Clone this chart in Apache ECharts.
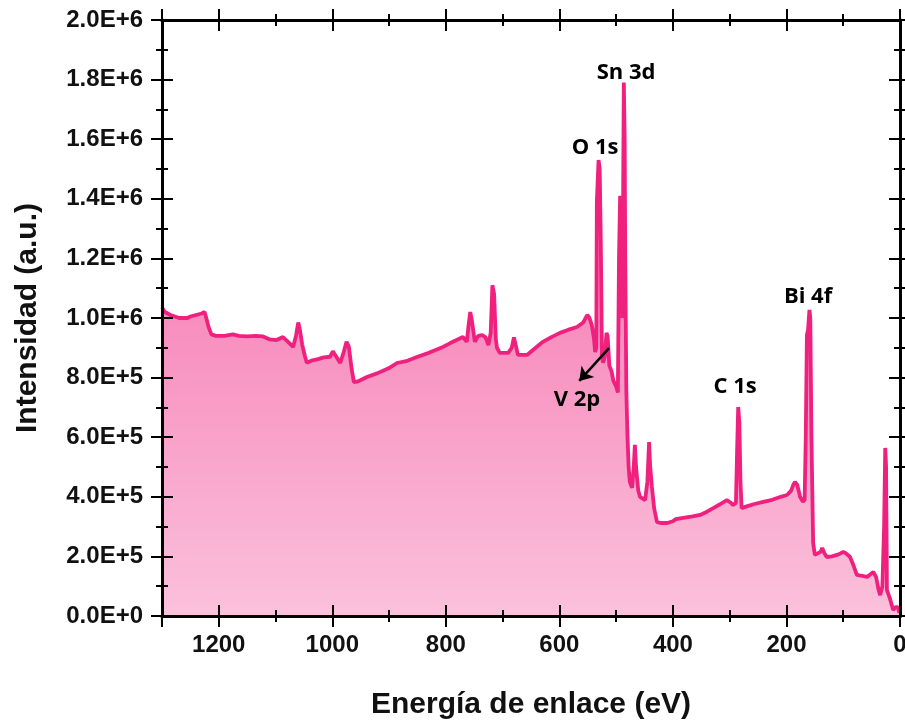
<!DOCTYPE html>
<html>
<head>
<meta charset="utf-8">
<script src="https://cdn.jsdelivr.net/npm/echarts@6/dist/echarts.min.js"></script>
<style>
  html, body { margin: 0; padding: 0; background: #fff; }
  #chart { width: 905px; height: 721px; }
</style>
</head>
<body>
<div id="chart"></div>
<script>
var energy = [
    1300, 1295, 1285, 1270, 1255, 1250, 1240, 1230, 1225, 1222, 1218, 1213, 1205, 1190, 1175, 1165,
    1150, 1135, 1122, 1110, 1098, 1087, 1078, 1069, 1064, 1060, 1057, 1053, 1048, 1045, 1035, 1025,
    1015, 1004, 999, 993, 986, 980, 975, 971, 966, 962, 955, 939, 920, 900, 886, 870,
    851, 830, 805, 793, 781, 770, 763, 760, 757, 754, 749, 743, 736, 730, 725, 721,
    718, 715, 712, 710, 705, 690, 684, 680, 677, 673, 657, 645, 629, 615, 599, 585,
    569, 558, 551, 547, 543, 539, 537, 535, 534, 531, 529, 527, 525, 523, 520, 517,
    515, 512, 508, 505, 500, 497, 495, 493, 491, 489, 488, 486.5, 485, 484, 482, 480,
    478, 476, 472, 469, 467, 465, 461, 458, 449, 445, 442, 440, 437, 433, 428, 420,
    410, 400, 395, 382, 365, 352, 340, 329, 317, 305, 298, 294, 289, 287, 285, 283,
    281, 279, 270, 258, 241, 225, 210, 199, 192, 188, 185, 181, 176, 171, 168, 166,
    164, 162, 159.5, 158, 156, 153, 150, 145, 140, 137, 133, 129, 120, 111, 105, 100,
    95, 88, 82, 76, 67, 58, 52, 47, 42, 38, 35, 31, 28, 26, 24.5, 23,
    18, 12, 8, 4, 1
];
var intensity = [
    1.035e6, 1.02e6, 1.01e6, 1.0e6, 1.0e6, 1.005e6, 1.01e6, 1.015e6, 1.02e6, 1.0e6, 0.97e6, 0.945e6, 0.94e6, 0.94e6, 0.945e6, 0.94e6,
    0.938e6, 0.94e6, 0.938e6, 0.928e6, 0.926e6, 0.936e6, 0.92e6, 0.903e6, 0.94e6, 0.985e6, 0.96e6, 0.91e6, 0.87e6, 0.85e6, 0.858e6, 0.862e6,
    0.868e6, 0.87e6, 0.888e6, 0.87e6, 0.849e6, 0.885e6, 0.92e6, 0.905e6, 0.83e6, 0.785e6, 0.787e6, 0.802e6, 0.815e6, 0.832e6, 0.849e6, 0.855e6,
    0.869e6, 0.883e6, 0.903e6, 0.915e6, 0.926e6, 0.936e6, 0.92e6, 0.975e6, 1.02e6, 0.99e6, 0.92e6, 0.94e6, 0.943e6, 0.935e6, 0.909e6, 0.95e6,
    1.11e6, 1.08e6, 0.93e6, 0.9e6, 0.883e6, 0.883e6, 0.9e6, 0.935e6, 0.91e6, 0.876e6, 0.876e6, 0.895e6, 0.92e6, 0.935e6, 0.95e6, 0.96e6,
    0.97e6, 0.985e6, 1.01e6, 1.0e6, 0.977e6, 0.93e6, 0.886e6, 0.9e6, 1.39e6, 1.53e6, 1.5e6, 1.25e6, 0.87e6, 0.85e6, 0.87e6, 0.95e6,
    0.94e6, 0.84e6, 0.82e6, 0.79e6, 0.77e6, 0.75e6, 1.2e6, 1.41e6, 1.38e6, 1.0e6, 1.0e6, 1.79e6, 1.6e6, 1.2e6, 0.75e6, 0.6e6,
    0.5e6, 0.45e6, 0.43e6, 0.5e6, 0.574e6, 0.5e6, 0.42e6, 0.4e6, 0.389e6, 0.45e6, 0.584e6, 0.5e6, 0.433e6, 0.36e6, 0.315e6, 0.312e6,
    0.312e6, 0.318e6, 0.325e6, 0.329e6, 0.334e6, 0.339e6, 0.35e6, 0.362e6, 0.375e6, 0.389e6, 0.38e6, 0.372e6, 0.38e6, 0.55e6, 0.701e6, 0.65e6,
    0.45e6, 0.362e6, 0.368e6, 0.375e6, 0.383e6, 0.39e6, 0.4e6, 0.406e6, 0.42e6, 0.44e6, 0.45e6, 0.44e6, 0.4e6, 0.383e6, 0.39e6, 0.6e6,
    0.943e6, 0.96e6, 1.027e6, 1.0e6, 0.6e6, 0.245e6, 0.205e6, 0.21e6, 0.215e6, 0.228e6, 0.21e6, 0.198e6, 0.2e6, 0.205e6, 0.21e6, 0.215e6,
    0.21e6, 0.198e6, 0.17e6, 0.138e6, 0.135e6, 0.131e6, 0.14e6, 0.148e6, 0.13e6, 0.09e6, 0.07e6, 0.1e6, 0.3e6, 0.564e6, 0.5e6, 0.087e6,
    0.06e6, 0.02e6, 0.03e6, 0.03e6, 0.01e6
];

// etiquetas de los picos
var peakNames = ['Sn 3d', 'O 1s', 'C 1s', 'Bi 4f', 'V 2p'];
var peakE = [482.6, 537, 290.6, 162, 569];
var peakI = [1.822e6, 1.57e6, 0.768e6, 1.07e6, 0.725e6];
// flecha V 2p
var arrowFrom = [512.6, 0.899e6];
var arrowTo = [565, 0.789e6];

var xMin = 0, xMax = 1300, xStep = 200;
var yMin = 0, yMax = 2e6, yStep = 2e5;

var axisFont = 'Liberation Sans';
var box = { left: 162, right: 5, top: 20, bottom: 105, containLabel: false, outerBoundsMode: 'none' };

// grid 0 = marcas hacia fuera + etiquetas, grid 1 = marcas hacia dentro (encima del relleno)
function xAx(g, pos, inside, labels) {
    return {
        gridIndex: g, type: 'value', position: pos, min: xMin, max: xMax, interval: xStep, inverse: true,
        z: inside ? 6 : 0,
        axisLine: { show: true, onZero: false, lineStyle: { color: '#000', width: 3 } },
        axisTick: { show: true, inside: inside, length: 11, lineStyle: { color: '#000', width: 2 } },
        minorTick: { show: true, splitNumber: 2, length: 6, lineStyle: { color: '#000', width: 2 } },
        axisLabel: {
            show: true, margin: 17, showMaxLabel: false,
            fontFamily: axisFont, fontWeight: 'bold', fontSize: 24,
            color: labels ? '#111' : 'rgba(255,255,255,0)',
            formatter: function (v) { return String(v); }
        },
        splitLine: { show: false }
    };
}

function yAx(g, pos, inside, labels) {
    return {
        gridIndex: g, type: 'value', position: pos, min: yMin, max: yMax, interval: yStep,
        z: inside ? 6 : 0,
        axisLine: { show: true, onZero: false, lineStyle: { color: '#000', width: 3 } },
        axisTick: { show: true, inside: inside, length: 11, lineStyle: { color: '#000', width: 2 } },
        minorTick: { show: true, splitNumber: 2, length: 6, lineStyle: { color: '#000', width: 2 } },
        axisLabel: {
            show: true, margin: 19,
            fontFamily: axisFont, fontWeight: 'bold', fontSize: 24,
            color: labels ? '#111' : 'rgba(255,255,255,0)',
            formatter: function (v) { return v.toExponential(1).toUpperCase(); }
        },
        splitLine: { show: false }
    };
}

var xAxes = [xAx(0, 'bottom', false, true), xAx(0, 'top', false, false), xAx(1, 'bottom', true, false), xAx(1, 'top', true, false)];
xAxes[0].name = 'Energía de enlace (eV)';
xAxes[0].nameLocation = 'middle';
xAxes[0].nameGap = 74;
xAxes[0].nameTextStyle = { fontFamily: axisFont, fontWeight: 'bold', fontSize: 30, color: '#111' };

var yAxes = [yAx(0, 'left', false, true), yAx(0, 'right', false, false), yAx(1, 'left', true, false), yAx(1, 'right', true, false)];
yAxes[0].name = 'Intensidad (a.u.)';
yAxes[0].nameLocation = 'middle';
yAxes[0].nameGap = 119;
yAxes[0].nameTextStyle = { fontFamily: axisFont, fontWeight: 'bold', fontSize: 30, color: '#111' };

var spectrum = [];
for (var i = 0; i < energy.length; i++) {
    spectrum.push([energy[i], intensity[i]]);
}
var labels = [];
for (var j = 0; j < peakNames.length; j++) {
    labels.push({ name: peakNames[j], value: [peakE[j], peakI[j]] });
}

var myChart = echarts.init(document.getElementById('chart'));
myChart.setOption({
    animation: false,
    grid: [box, box],
    xAxis: xAxes,
    yAxis: yAxes,
    series: [{
        type: 'line',
        data: spectrum,
        showSymbol: false,
        symbol: 'none',
        lineStyle: { color: '#f0207f', width: 3.8 },
        areaStyle: {
            opacity: 1,
            color: new echarts.graphic.LinearGradient(0, 0, 0, 1, [
                { offset: 0, color: 'rgba(240,32,127,0.62)' },
                { offset: 0.46, color: 'rgba(240,32,127,0.5)' },
                { offset: 1, color: 'rgba(240,32,127,0.28)' }
            ])
        }
    }, {
        type: 'scatter',
        data: labels,
        symbolSize: 1,
        z: 10,
        itemStyle: { color: '#000', opacity: 0 },
        label: {
            show: true, position: 'inside', formatter: '{b}', opacity: 1,
            textBorderWidth: 0,
            fontFamily: 'Open Sans', fontWeight: 'bold', fontSize: 22, color: '#000'
        },
        markLine: {
            silent: true,
            symbol: ['none', 'arrow'],
            symbolSize: 13,
            label: { show: false },
            lineStyle: { color: '#000', width: 2.5, type: 'solid', opacity: 1 },
            data: [[{ coord: arrowFrom }, { coord: arrowTo }]]
        }
    }]
});
</script>
</body>
</html>
